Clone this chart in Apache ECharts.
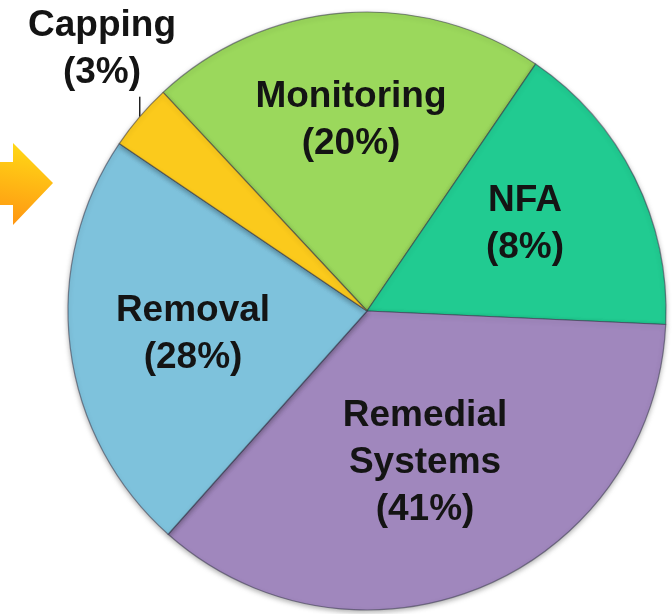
<!DOCTYPE html>
<html><head><meta charset="utf-8">
<script src="https://cdn.jsdelivr.net/npm/echarts@6/dist/echarts.min.js"></script>
<style>html,body{margin:0;padding:0;background:#fff}#c{width:672px;height:614px}</style>
</head><body><div id="c"></div>
<script>
// Categories in clockwise order starting at the Monitoring/Capping boundary
const categories = ['Monitoring', 'NFA', 'Remedial Systems', 'Removal', 'Capping'];
// Slice shares as drawn in the picture (measured from the slice angles)
const sliceShares = [21.5, 16.2, 35.9, 22.9, 3.6];
// Percentages printed on the labels
const labelPercents = [20, 8, 41, 28, 3];

const sliceColors = ['#9bd85c', '#21cb91', '#a087bd', '#7ec2dc', '#fbca1c'];
const labelCenters = [[351, 120], [525, 224], [425, 463], [193, 334], [102, 49]];

const chart = echarts.init(document.getElementById('c'), null, {renderer: 'canvas'});

const data = categories.map((name, i) => {
  const outside = name === 'Capping';
  return {
    name: name,
    value: sliceShares[i],
    itemStyle: {color: sliceColors[i]},
    label: {position: outside ? 'outside' : 'inside', overflow: 'none'},
    labelLine: {show: outside, length: 10, length2: 0,
      lineStyle: {color: '#222', width: 1.5}}
  };
});

chart.setOption({
  animation: false,
  backgroundColor: '#ffffff',
  graphic: [{
    type: 'polygon',
    shape: {points: [[0, 162], [13, 162], [13, 143], [53, 183], [13, 225], [13, 205], [0, 205]]},
    style: {
      fill: new echarts.graphic.LinearGradient(0.3, 0, 0, 1, [
        {offset: 0, color: '#ffd816'},
        {offset: 1, color: '#ff9412'}
      ])
    }
  }],
  series: [{
    type: 'pie',
    center: [367, 311],
    radius: 299,
    startAngle: 133,
    clockwise: true,
    silent: true,
    data: data,
    itemStyle: {
      borderColor: 'rgba(55,55,75,0.55)',
      borderWidth: 1.2,
      shadowBlur: 5,
      shadowOffsetY: 2,
      shadowColor: 'rgba(0,0,0,0.3)'
    },
    label: {
      show: true,
      formatter: (p) => p.name.replace(' ', '\n') + '\n(' + labelPercents[p.dataIndex] + '%)',
      fontFamily: 'Liberation Sans, Arial, sans-serif',
      fontWeight: 'bold',
      fontSize: 37,
      lineHeight: 47,
      color: '#141414',
      align: 'center',
      overflow: 'none'
    },
    labelLayout: (p) => {
      const c = labelCenters[p.dataIndex];
      const out = {x: c[0], y: c[1], align: 'center', verticalAlign: 'middle'};
      if (p.labelLinePoints && p.labelLinePoints.length) {
        const a = p.labelLinePoints[0];
        out.labelLinePoints = [[a[0], a[1]], [a[0], a[1] - 20], [a[0], a[1] - 20]];
      }
      return out;
    }
  }]
});
</script></body></html>
